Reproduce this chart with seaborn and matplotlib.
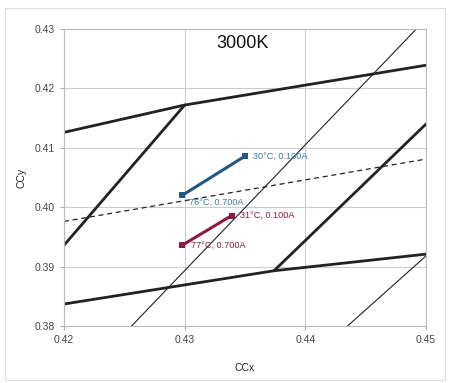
import pandas as pd
import matplotlib.pyplot as plt
import seaborn as sns
from matplotlib.patches import Rectangle

# boundary lines of the bins (x, y)
upper_x = [0.42, 0.43, 0.45]
upper_y = [0.4126, 0.4172, 0.4239]
left_x = [0.42, 0.43]
left_y = [0.3936, 0.4172]
lower_x = [0.42, 0.4374, 0.45]
lower_y = [0.3837, 0.3893, 0.3921]
right_x = [0.4374, 0.45]
right_y = [0.3893, 0.4140]
thin1_x = [0.4256, 0.4492]
thin1_y = [0.38, 0.43]
thin2_x = [0.4435, 0.45]
thin2_y = [0.38, 0.3918]
bbl_x = [0.42, 0.45]
bbl_y = [0.3976, 0.4081]

# measurements
blue_x = [0.4350, 0.4298]
blue_y = [0.4086, 0.4020]
blue_labels = ["30°C, 0.100A", "76°C, 0.700A"]
red_x = [0.4339, 0.4298]
red_y = [0.3986, 0.3936]
red_labels = ["31°C, 0.100A", "77°C, 0.700A"]

sns.set_style("white")
plt.rcParams['font.family'] = ['Liberation Sans', 'DejaVu Sans']

fig = plt.figure(figsize=(4.53, 3.83), dpi=100)
ax = fig.add_axes([0.1413, 0.1488, 0.7991, 0.7755])

def seg(xs, ys, **kw):
    df = pd.DataFrame({'x': xs, 'y': ys})
    sns.lineplot(data=df, x='x', y='y', sort=False, estimator=None, ax=ax, **kw)

seg(upper_x, upper_y, color='#222222', linewidth=2)
seg(left_x, left_y, color='#222222', linewidth=2)
seg(lower_x, lower_y, color='#222222', linewidth=2)
seg(right_x, right_y, color='#222222', linewidth=2)
seg(thin1_x, thin1_y, color='#222222', linewidth=0.8)
seg(thin2_x, thin2_y, color='#222222', linewidth=0.8)
seg(bbl_x, bbl_y, color='#222222', linewidth=0.9, linestyle=(0, (4, 3)))

seg(blue_x, blue_y, color='#1f5888', linewidth=2.2, marker='s', markersize=5,
    markeredgewidth=0)
seg(red_x, red_y, color='#8c1a45', linewidth=2.2, marker='s', markersize=5,
    markeredgewidth=0)

ax.text(blue_x[0] + 0.0007, blue_y[0], blue_labels[0], color='#3a78aa',
        fontsize=6.6, va='center')
ax.text(blue_x[1] + 0.0006, blue_y[1] - 0.0012, blue_labels[1], color='#3a78aa',
        fontsize=6.6, va='center')
ax.text(red_x[0] + 0.0007, red_y[0], red_labels[0], color='#8c1a45',
        fontsize=6.6, va='center')
ax.text(red_x[1] + 0.0007, red_y[1], red_labels[1], color='#8c1a45',
        fontsize=6.6, va='center')

ax.text(0.4348, 0.4276, "3000K", fontsize=13, ha='center', va='center',
        color='#111111')

ax.set_xlim(0.42, 0.45)
ax.set_ylim(0.38, 0.43)
ax.set_xticks([0.42, 0.43, 0.44, 0.45])
ax.set_yticks([0.38, 0.39, 0.40, 0.41, 0.42, 0.43])
ax.set_xticklabels(["0.42", "0.43", "0.44", "0.45"])
ax.set_yticklabels(["0.38", "0.39", "0.40", "0.41", "0.42", "0.43"])
ax.tick_params(labelsize=7.5, colors='#444444', length=3, color='#aaaaaa',
               left=True, bottom=True)
ax.grid(True, color='#cccccc', linewidth=0.8)
for s in ax.spines.values():
    s.set_color('#bbbbbb')
    s.set_linewidth(0.8)
ax.set_xlabel("CCx", fontsize=7.5, color='#222222', labelpad=13)
ax.set_ylabel("CCy", fontsize=7.5, color='#222222', labelpad=6)

fig.add_artist(Rectangle((5 / 453, 3 / 383), 440 / 453, 372 / 383,
                         transform=fig.transFigure, fill=False,
                         edgecolor='#dddddd', linewidth=0.8))

fig.savefig("out.png", dpi=100)
